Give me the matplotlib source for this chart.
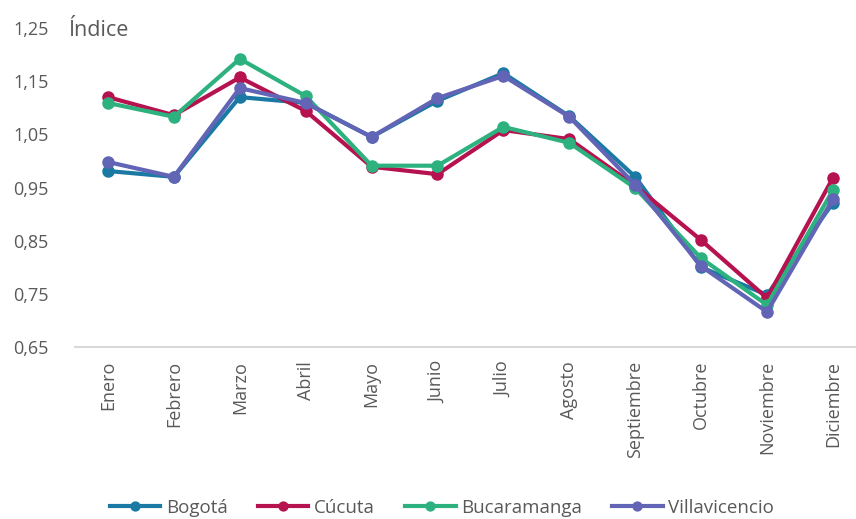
import matplotlib
matplotlib.use("Agg")
from matplotlib import pyplot as plt

plt.rcParams['font.family'] = ['Open Sans', 'DejaVu Sans']

meses = ["Enero", "Febrero", "Marzo", "Abril", "Mayo", "Junio", "Julio",
         "Agosto", "Septiembre", "Octubre", "Noviembre", "Diciembre"]

bogota = [0.981, 0.970, 1.120, 1.109, 1.045, 1.113, 1.165, 1.084, 0.970, 0.800, 0.748, 0.921]
cucuta = [1.120, 1.086, 1.157, 1.094, 0.989, 0.975, 1.058, 1.041, 0.953, 0.851, 0.742, 0.968]
bucaramanga = [1.109, 1.083, 1.192, 1.122, 0.991, 0.991, 1.064, 1.034, 0.949, 0.817, 0.729, 0.945]
villavicencio = [0.998, 0.970, 1.137, 1.109, 1.045, 1.118, 1.160, 1.083, 0.955, 0.802, 0.716, 0.928]

series = [("Bogotá", bogota, "#1b7aa3"),
          ("Cúcuta", cucuta, "#b5124f"),
          ("Bucaramanga", bucaramanga, "#2db27f"),
          ("Villavicencio", villavicencio, "#6264b5")]

fig = plt.figure(figsize=(8.56, 5.19), dpi=100)
ax = fig.add_axes([75/856, 172/519, 781/856, 319/519])

x = list(range(len(meses)))
for nombre, vals, col in series:
    ax.plot(x, vals, color=col, lw=3, marker="o", ms=8, label=nombre, clip_on=False)

ax.set_xlim(-0.5, 11.35)
ax.set_ylim(0.65, 1.25)
ax.set_yticks([0.65, 0.75, 0.85, 0.95, 1.05, 1.15, 1.25])
ax.set_yticklabels(["0,65", "0,75", "0,85", "0,95", "1,05", "1,15", "1,25"])
ax.set_xticks(x)
ax.set_xticklabels(meses, rotation=90)

for s in ["top", "right", "left"]:
    ax.spines[s].set_visible(False)
ax.spines["bottom"].set_color("#d9d9d9")
ax.spines["bottom"].set_linewidth(1.5)
ax.tick_params(axis="both", length=0, labelsize=13, colors="#595959")
ax.tick_params(axis="y", pad=19)
ax.tick_params(axis="x", pad=10)

ax.text(68/856, 1 - 31/519, "Índice", transform=fig.transFigure, fontsize=15.5,
        color="#595959", va="center", ha="left")

ax.legend(loc="center", bbox_to_anchor=(442/856, 1 - 508/519), bbox_transform=fig.transFigure,
          ncol=4, frameon=False, fontsize=13.5, labelcolor="#595959",
          handlelength=2.7, handletextpad=0.3, columnspacing=1.6, markerscale=0.8)

fig.savefig("out.png", dpi=100)
